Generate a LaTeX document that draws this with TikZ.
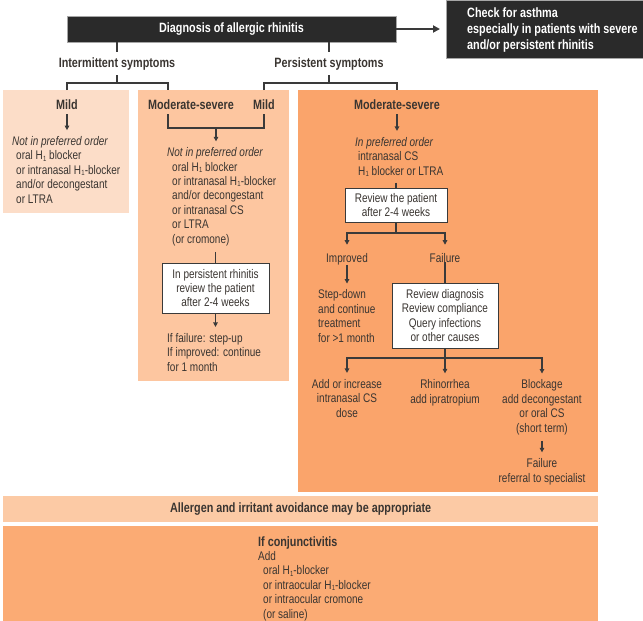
\documentclass[tikz,border=0pt]{standalone}
\usepackage{fontspec}
\setmainfont[FakeStretch=0.8]{Liberation Sans}
\usetikzlibrary{arrows.meta,calc}
\definecolor{pale}{HTML}{FCDDC8}
\definecolor{mid}{HTML}{FDC6A0}
\definecolor{deep}{HTML}{FAA46B}
\definecolor{avoidc}{HTML}{FCCAA5}
\definecolor{conjc}{HTML}{FBAB74}
\definecolor{blk}{HTML}{2A2A2A}
\definecolor{ink}{HTML}{3A3531}
\definecolor{linec}{HTML}{3A3A3A}
\newcommand{\Hone}{H\kern0.2pt\raisebox{-1.3pt}{\fontsize{7.5}{7.5}\selectfont 1}}
\begin{document}
\begin{tikzpicture}[x=1pt,y=-1pt,
  body/.style={font=\fontsize{12.5}{14.4}\selectfont, text=ink, inner sep=0pt},
  tblock/.style={body, align=left, inner xsep=0pt, inner ysep=6pt, anchor=base west},
  cblock/.style={body, align=center, inner xsep=0pt, inner ysep=6pt, anchor=base},
  head/.style={font=\fontsize{13.5}{16}\selectfont\bfseries, text=ink, inner xsep=0pt, inner ysep=5pt, anchor=base},
  panel/.style={anchor=north west, inner sep=0pt, draw=none},
  blackbox/.style={fill=blk, draw=gray!70, line width=0.6pt, text=white, font=\fontsize{13.5}{16}\selectfont\bfseries, inner sep=0pt},
  conn/.style={draw=linec, line width=1.3pt},
  arr/.style={conn, -{Triangle[length=4.5pt,width=4.5pt]}},
  wbox/.style={draw=linec, line width=0.9pt, fill=white, font=\fontsize{12.5}{14.4}\selectfont, text=ink, align=center, inner sep=0pt},
]
\useasboundingbox (0,0) rectangle (643,621);

% panels
\node[panel, fill=pale, minimum width=126pt, minimum height=123pt] (lbox) at (3,90) {};
\node[panel, fill=mid, minimum width=151pt, minimum height=291pt] (mbox) at (138,90) {};
\node[panel, fill=deep, minimum width=300pt, minimum height=402pt] (rbox) at (298,90) {};
\node[panel, fill=avoidc, minimum width=595pt, minimum height=26pt] (avoid) at (3,496) {};
\node[panel, fill=conjc, minimum width=595pt, minimum height=95pt] (conjbox) at (3,526) {};

% top boxes
\node[blackbox, minimum width=329pt, minimum height=26pt] (diag) at (231.5,29) {Diagnosis of allergic rhinitis};
\node[blackbox, anchor=north west, minimum width=197pt, minimum height=58pt] (check) at (446,0) {};
\node[font=\fontsize{13.5}{16}\selectfont\bfseries, text=white, align=left, inner sep=0pt, anchor=base west] (checktxt) at (467,49) {Check for asthma\\especially in patients with severe\\and/or persistent rhinitis};
\draw[conn, line width=2pt, -{Triangle[length=7pt,width=7pt]}, shorten >=6pt] (diag.east) -- (check.west |- diag.east);

% symptom headings
\node[head] (inter) at (117,67) {Intermittent symptoms};
\node[head] (pers) at (329,67) {Persistent symptoms};
\coordinate (bk1) at (117,83);
\coordinate (bk2) at (329,83);
\draw[conn] (diag.south -| inter) -- (inter.north);
\draw[conn] (diag.south -| pers) -- (pers.north);
\draw[conn] (inter.south) -- (bk1);
\draw[conn] (pers.south) -- (bk2);

% severity headings
\node[head] (mildA) at (67,109) {Mild};
\node[head] (modA) at (191,109) {Moderate-severe};
\node[head] (mildB) at (264,109) {Mild};
\node[head] (modB) at (397,109) {Moderate-severe};
\coordinate (legA) at (168,90);
\draw[conn] (lbox.north -| mildA) |- (bk1) -| (legA);
\draw[conn] (mbox.north -| mildB) |- (bk2) -| (rbox.north -| modB);

% left column
\node[tblock] (textA) at (12,203) {\textit{Not in preferred order}\\
\hspace*{4pt}oral \Hone{} blocker\\
\hspace*{4pt}or intranasal \Hone-blocker\\
\hspace*{4pt}and/or decongestant\\
\hspace*{4pt}or LTRA};
\draw[arr] (mildA.south) -- (textA.north -| mildA);

% middle column
\coordinate (mbB) at (216,128);
\draw[conn] (modA.south -| legA) |- (mbB) -| (mildB.south);
\node[tblock] (textB) at (167,243) {\textit{Not in preferred order}\\
\hspace*{5pt}oral \Hone{} blocker\\
\hspace*{5pt}or intranasal \Hone-blocker\\
\hspace*{5pt}and/or decongestant\\
\hspace*{5pt}or intranasal CS\\
\hspace*{5pt}or LTRA\\
\hspace*{5pt}(or cromone)};
\draw[arr] (mbB) -- (textB.north -| mbB);
\node[wbox, minimum width=107pt, minimum height=50pt] (rev1) at (215.5,288) {In persistent rhinitis\\review the patient\\after 2-4 weeks};
\draw[conn] (textB.south -| rev1) -- (rev1.north);
\node[tblock] (textC) at (167,371) {If failure: step-up\\If improved: continue\\for 1 month};
\draw[arr] (rev1.south) -- (textC.north -| rev1);

% right column
\node[tblock] (textD) at (355,175) {\textit{In preferred order}\\
\hspace*{3pt}intranasal CS\\
\hspace*{3pt}\Hone{} blocker or LTRA};
\draw[arr] (modB.south) -- (textD.north -| modB);
\node[wbox, minimum width=102pt, minimum height=34pt] (rev2) at (396,205) {Review the patient\\after 2-4 weeks};
\draw[conn] (textD.south -| rev2) -- (rev2.north);
\coordinate (bk3) at (396,233);
\draw[conn] (rev2.south) -- (bk3);
\node[body, anchor=base] (impr) at (347,262) {Improved};
\node[body, anchor=base] (fail1) at (445,262) {Failure};
\draw[arr, shorten >=8pt] (bk3) -| (impr.north);
\draw[arr, shorten >=8pt] (bk3) -| (fail1.north);
\node[tblock] (textE) at (318,342) {Step-down\\and continue\\treatment\\for >1 month};
\draw[arr] (impr.south) -- (textE.north -| impr);
\node[wbox, minimum width=106pt, minimum height=65pt] (rev3) at (445,315.5) {Review diagnosis\\Review compliance\\Query infections\\or other causes};
\draw[conn] (fail1.south) -- (rev3.north);
\coordinate (bk4) at (445,358);
\draw[conn] (rev3.south) -- (bk4);
\node[cblock] (out1) at (347,417) {Add or increase\\intranasal CS\\dose};
\node[cblock] (out2) at (445,403) {Rhinorrhea\\add ipratropium};
\node[cblock] (out3) at (542,432) {Blockage\\add decongestant\\or oral CS\\(short term)};
\draw[arr] (bk4) -| (out1.north);
\draw[arr] (bk4) -- (out2.north);
\draw[arr] (bk4) -| (out3.north);
\node[cblock] (out4) at (542,482) {Failure\\referral to specialist};
\draw[arr] (out3.south) -- (out4.north);

% bottom bands
\node[font=\fontsize{13.5}{16}\selectfont\bfseries, text=ink, inner sep=0pt] (avoidtxt) at (avoid.center) {Allergen and irritant avoidance may be appropriate};
\node[tblock] (conjtxt) at (258,618) {{\fontsize{13.5}{14.4}\selectfont\bfseries If conjunctivitis}\\
Add\\
\hspace*{5pt}oral \Hone-blocker\\
\hspace*{5pt}or intraocular \Hone-blocker\\
\hspace*{5pt}or intraocular cromone\\
\hspace*{5pt}(or saline)};
\end{tikzpicture}
\end{document}
